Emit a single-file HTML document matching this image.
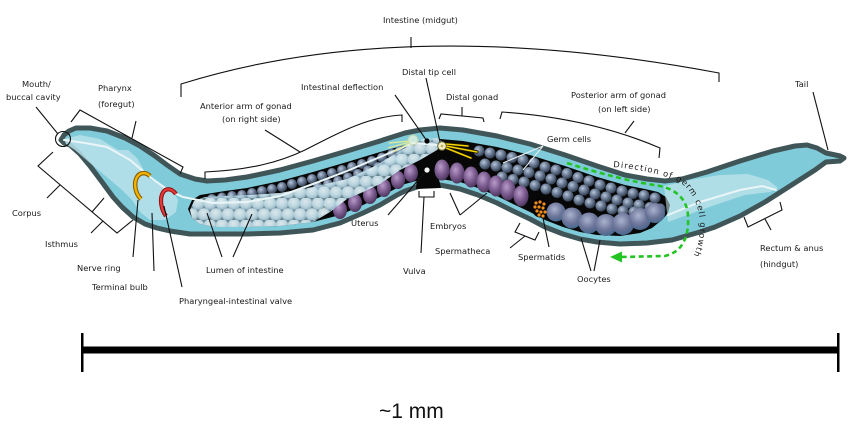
<!DOCTYPE html>
<html><head><meta charset="utf-8">
<style>
html,body{margin:0;padding:0;background:#fff;}
svg{display:block;}
text{font-family:"DejaVu Sans","Liberation Sans",sans-serif;font-size:8.3px;fill:#1a1a1a;}
</style></head><body>
<svg width="850" height="424" viewBox="0 0 850 424" xmlns="http://www.w3.org/2000/svg">
<defs>
 <radialGradient id="gc" cx="0.38" cy="0.35" r="0.7">
  <stop offset="0" stop-color="#b8c6da"/>
  <stop offset="0.45" stop-color="#6f8099"/>
  <stop offset="1" stop-color="#2c384a"/>
 </radialGradient>
 <radialGradient id="emb" cx="0.4" cy="0.35" r="0.75">
  <stop offset="0" stop-color="#b99bc9"/>
  <stop offset="0.5" stop-color="#7b5b8f"/>
  <stop offset="1" stop-color="#3e2a4e"/>
 </radialGradient>
 <radialGradient id="ooc" cx="0.42" cy="0.35" r="0.75">
  <stop offset="0" stop-color="#aab2ce"/>
  <stop offset="0.55" stop-color="#6b7498"/>
  <stop offset="1" stop-color="#3a6288"/>
 </radialGradient>
 <radialGradient id="ic" cx="0.45" cy="0.35" r="0.7">
  <stop offset="0" stop-color="#eef8fb"/>
  <stop offset="0.6" stop-color="#c6e0ea"/>
  <stop offset="1" stop-color="#8fb3c6"/>
 </radialGradient>
 <pattern id="ip" width="24" height="22" patternUnits="userSpaceOnUse">
  <circle cx="6" cy="5.5" r="6.3" fill="url(#ic)"/>
  <circle cx="18" cy="5.5" r="6.3" fill="url(#ic)"/>
  <circle cx="0" cy="16.5" r="6.3" fill="url(#ic)"/>
  <circle cx="12" cy="16.5" r="6.3" fill="url(#ic)"/>
  <circle cx="24" cy="16.5" r="6.3" fill="url(#ic)"/>
 </pattern>
</defs>

<!-- body -->
<polygon fill="#80cbd9" stroke="#3f5558" stroke-width="5" stroke-linejoin="round" points="61,140 64,135 69,131 76,128 90,128 107,131 125,138 140,146 155,156 167,165 180,174 195,179 207,181 225,180 247,177 280,170 313,161 347,151 380,141 405,133 420,130 440,128 463,130 497,136 530,144 565,155 597,166 625,175 647,179 665,181 682,179 707,172 740,161 773,151 795,146 807,145 817,148 826,153 840,156 844,158 840,161 826,162 815,170 790,186 765,202 740,216 715,227 700,232 672,240 647,243 620,244 597,242 580,239 563,234 545,227 530,219 513,211 497,203 478,195 460,189 440,185 420,186 405,191 397,195 380,205 363,213 340,223 313,230 280,233 247,234 215,234 190,234 170,231 157,228 145,224 133,217 122,207 113,197 102,182 90,166 80,154 70,145 64,143"/>

<!-- pharynx -->
<polygon fill="#b9e2ea" opacity="0.85" points="64,139 80,135 100,139 118,150 128,150 137,158 142,167 148,178 160,184 172,190 178,200 176,212 165,220 150,220 140,212 132,200 122,190 108,178 90,163 75,150 66,144"/>

<!-- cavity -->
<polygon fill="#070707" points="192,200 200,195 225,191 247,188 280,181 313,172 347,162 380,152 405,145 420,141 440,139 463,141 497,147 530,155 565,166 597,177 625,185 645,189 658,192 666,197 670,205 668,213 662,220 652,228 640,233 620,236 597,235 580,232 563,227 545,220 530,212 513,204 497,196 478,188 460,182 440,179 420,180 405,184 397,188 380,197 363,205 340,215 313,222 280,226 247,227 215,227 200,224 192,218 188,209"/>
<polygon fill="#070707" points="417,176 438,175 441,188 416,189"/>

<!-- anterior germ cells -->
<g fill="url(#gc)">
<circle cx="212" cy="199" r="5"/><circle cx="222" cy="197.5" r="5"/><circle cx="232" cy="196" r="5"/><circle cx="242" cy="195" r="5"/><circle cx="252" cy="193" r="5"/><circle cx="262" cy="191" r="5"/><circle cx="272" cy="189" r="5"/><circle cx="282" cy="187" r="5"/><circle cx="292" cy="184" r="5"/><circle cx="302" cy="181.5" r="5"/><circle cx="312" cy="179" r="5"/><circle cx="322" cy="176" r="5"/><circle cx="332" cy="173" r="5"/><circle cx="342" cy="170" r="5"/><circle cx="352" cy="167" r="5"/><circle cx="362" cy="164" r="5"/><circle cx="372" cy="161" r="5"/><circle cx="382" cy="157.5" r="5"/><circle cx="392" cy="154" r="5"/><circle cx="400" cy="151" r="5"/>
<circle cx="318" cy="187" r="5"/><circle cx="328" cy="184" r="5"/><circle cx="338" cy="181" r="5"/><circle cx="348" cy="177.5" r="5"/><circle cx="358" cy="174" r="5"/><circle cx="368" cy="170.5" r="5"/><circle cx="378" cy="167" r="5"/><circle cx="388" cy="163" r="5"/><circle cx="397" cy="160" r="5"/>
</g>
<!-- anterior embryos -->
<g fill="url(#emb)">
<ellipse cx="411" cy="173" rx="7" ry="9"/><ellipse cx="398" cy="180" rx="7" ry="9"/><ellipse cx="384" cy="188" rx="7" ry="9"/><ellipse cx="370" cy="195" rx="7" ry="9"/><ellipse cx="355" cy="203" rx="7" ry="9"/><ellipse cx="340" cy="210" rx="7" ry="9"/>
</g>
<ellipse cx="323" cy="210" rx="6" ry="6" fill="#050505"/>
<g fill="#f08c1a"><circle cx="320" cy="210" r="1.5"/><circle cx="324" cy="209" r="1.5"/><circle cx="322" cy="213" r="1.5"/><circle cx="326" cy="212" r="1.5"/><circle cx="319" cy="206" r="1.3"/><circle cx="325" cy="205" r="1.3"/></g>

<!-- posterior germ cells -->
<g fill="url(#gc)">
<circle cx="479" cy="151" r="5.5"/><circle cx="490" cy="153" r="5.5"/><circle cx="501" cy="155" r="5.5"/><circle cx="512" cy="157.5" r="5.5"/><circle cx="523" cy="160" r="5.5"/><circle cx="534" cy="163" r="5.5"/><circle cx="545" cy="167" r="5.5"/><circle cx="556" cy="170" r="5.5"/><circle cx="567" cy="173.5" r="5.5"/><circle cx="578" cy="177.5" r="5.5"/><circle cx="589" cy="181" r="5.5"/><circle cx="600" cy="185" r="5.5"/><circle cx="611" cy="188" r="5.5"/><circle cx="622" cy="191" r="5.5"/><circle cx="633" cy="193.5" r="5.5"/><circle cx="644" cy="195.5" r="5.5"/><circle cx="655" cy="198" r="5.5"/>
<circle cx="485" cy="164" r="5.5"/><circle cx="496" cy="166" r="5.5"/><circle cx="507" cy="167.5" r="5.5"/><circle cx="518" cy="170" r="5.5"/><circle cx="529" cy="172.5" r="5.5"/><circle cx="540" cy="176" r="5.5"/><circle cx="551" cy="179" r="5.5"/><circle cx="562" cy="183" r="5.5"/><circle cx="573" cy="186.5" r="5.5"/><circle cx="584" cy="190" r="5.5"/><circle cx="595" cy="194" r="5.5"/><circle cx="606" cy="197" r="5.5"/><circle cx="617" cy="200" r="5.5"/><circle cx="628" cy="203" r="5.5"/><circle cx="639" cy="205" r="5.5"/><circle cx="650" cy="207.5" r="5.5"/><circle cx="660" cy="209" r="5.5"/>
<circle cx="502" cy="177" r="5.5"/><circle cx="513" cy="179.5" r="5.5"/><circle cx="524" cy="182" r="5.5"/><circle cx="535" cy="185.5" r="5.5"/><circle cx="546" cy="189" r="5.5"/><circle cx="557" cy="192.5" r="5.5"/><circle cx="568" cy="196" r="5.5"/><circle cx="579" cy="200" r="5.5"/><circle cx="590" cy="203" r="5.5"/><circle cx="601" cy="206" r="5.5"/><circle cx="612" cy="209" r="5.5"/><circle cx="623" cy="211" r="5.5"/><circle cx="634" cy="212" r="5.5"/><circle cx="645" cy="214" r="5.5"/>
</g>
<!-- posterior embryos -->
<g fill="url(#emb)">
<ellipse cx="442" cy="170" rx="7.5" ry="10.5"/><ellipse cx="457" cy="173" rx="7.5" ry="10.5"/><ellipse cx="471" cy="177" rx="7.5" ry="10.5"/><ellipse cx="484" cy="182" rx="7.5" ry="10.5"/><ellipse cx="496" cy="186" rx="7.5" ry="10.5"/><ellipse cx="508" cy="190" rx="7.5" ry="10.5"/><ellipse cx="521" cy="196" rx="7.5" ry="10.5"/>
</g>
<!-- spermatids -->
<ellipse cx="540" cy="208" rx="8" ry="9.5" fill="#050505"/>
<g fill="#f08c1a"><circle cx="536" cy="203" r="1.6"/><circle cx="540" cy="202" r="1.6"/><circle cx="544" cy="204" r="1.6"/><circle cx="535" cy="207" r="1.6"/><circle cx="539" cy="207" r="1.6"/><circle cx="543" cy="208" r="1.6"/><circle cx="537" cy="211" r="1.6"/><circle cx="541" cy="212" r="1.6"/><circle cx="545" cy="212" r="1.6"/><circle cx="539" cy="215" r="1.6"/><circle cx="543" cy="216" r="1.6"/></g>
<!-- oocytes -->
<g fill="url(#ooc)">
<circle cx="556" cy="212" r="9.5"/><circle cx="572" cy="218" r="10.5"/><circle cx="589" cy="223" r="10.5"/><circle cx="606" cy="225" r="11"/><circle cx="623" cy="224" r="11"/><circle cx="640" cy="219" r="11"/><circle cx="655" cy="213" r="10"/>
</g>

<!-- anterior intestine overlay -->
<polygon fill="#9dc4d3" opacity="0.7" points="190,210 194,201 205,197 225,196 250,195 280,193 313,187 347,179 375,166 395,154 410,145 422,139 437,138 444,143 437,150 420,160 400,170 380,184 363,192 347,199 330,212 313,222 280,226 247,227 215,227 200,224 192,218"/>
<polygon fill="url(#ip)" opacity="0.85" points="190,210 194,201 205,197 225,196 250,195 280,193 313,187 347,179 375,166 395,154 410,145 422,139 437,138 444,143 437,150 420,160 400,170 380,184 363,192 347,199 330,212 313,222 280,226 247,227 215,227 200,224 192,218"/>
<!-- posterior intestine -->
<polygon fill="#d6eef3" opacity="0.55" points="664,186 690,180 720,175 748,174 768,180 778,188 770,192 745,195 715,205 690,214 668,222"/>
<!-- lumen -->
<polyline fill="none" stroke="#eaf5f8" stroke-width="2" stroke-linecap="round" points="64,140 85,143 107,147 130,160 150,177 168,190 183,197 213,203 247,202 280,196 313,184 347,171 380,157 413,143 437,145"/>
<polyline fill="none" stroke="#eaf5f8" stroke-width="2" stroke-linecap="round" points="668,215 700,202 740,190 762,186 776,190"/>

<!-- nerve ring & valve -->
<path d="M150,176 A8.5,12.5 -15 1 0 141,199" fill="none" stroke="#8a5a00" stroke-width="4.5"/>
<path d="M150,176 A8.5,12.5 -15 1 0 141,199" fill="none" stroke="#f0b400" stroke-width="2.4"/>
<path d="M176,194 A7,12 -15 1 0 166,216" fill="none" stroke="#8e1010" stroke-width="4.2"/>
<path d="M176,194 A7,12 -15 1 0 166,216" fill="none" stroke="#e23a3a" stroke-width="2.2"/>

<!-- distal tip cells -->
<g stroke="#e2eb98" stroke-width="1.4" opacity="0.9"><line x1="410" y1="141" x2="389" y2="143"/><line x1="410" y1="142" x2="388" y2="148"/><line x1="410" y1="143" x2="393" y2="152"/></g>
<circle cx="413" cy="140" r="5" fill="#e8f4e0" opacity="0.75" stroke="#c8d8a0"/>
<g stroke="#1a1400" stroke-width="3.2" stroke-linecap="round"><line x1="446" y1="146" x2="477" y2="152"/><line x1="446" y1="148" x2="471" y2="158"/><line x1="446" y1="144" x2="468" y2="146"/></g>
<g stroke="#f5d400" stroke-width="1.5" stroke-linecap="round"><line x1="446" y1="146" x2="477" y2="152"/><line x1="446" y1="148" x2="471" y2="158"/><line x1="446" y1="144" x2="468" y2="146"/></g>
<circle cx="442" cy="146" r="4.3" fill="#f3f0c8" stroke="#6b6030" stroke-width="1"/>
<circle cx="442" cy="146" r="1.4" fill="#c8b060"/>

<!-- green arrow -->
<path d="M567,163 Q620,180 660,186 Q686,192 688,215 Q690,250 665,256 L621,257" fill="none" stroke="#22c422" stroke-width="2.6" stroke-dasharray="5,3.5"/>
<polygon points="610,257 622,251.5 622,262.5" fill="#22c422"/>

<!-- leader lines & brackets -->
<g fill="none" stroke="#111" stroke-width="1.1">
<circle cx="63" cy="139" r="7.5"/>
<line x1="36" y1="107" x2="58" y2="134"/>
<polyline points="71,122 80,110 183,167 180,174"/>
<line x1="132" y1="138" x2="136" y2="121"/>
<polyline points="53,152 38,166 117,233 133,220"/>
<line x1="60" y1="185" x2="47" y2="198"/>
<line x1="92" y1="212" x2="104" y2="198"/>
<line x1="103" y1="221" x2="91" y2="233"/>
<line x1="133" y1="257" x2="138" y2="200"/>
<line x1="154" y1="271" x2="152" y2="213"/>
<line x1="182" y1="287" x2="164" y2="206"/>
<line x1="222" y1="257" x2="207" y2="213"/>
<line x1="233" y1="257" x2="252" y2="214"/>
<path d="M181,97 L181,84 Q405,14 719,73 L719,82"/>
<line x1="411" y1="48" x2="411" y2="37"/>
<path d="M205,179 L205,172 C250,170 280,162 305,150 C335,135 365,117 402,115 L402,122"/>
<line x1="300" y1="152" x2="265" y2="130"/>
<line x1="395" y1="95" x2="427" y2="141"/>
<line x1="426" y1="78" x2="440" y2="142"/>
<polyline points="439,119 441,114 483,118 484,122"/>
<line x1="462" y1="116" x2="462" y2="107"/>
<path d="M500,119 L502,112 Q590,118 660,148 L659,158"/>
<line x1="625" y1="133" x2="634" y2="121"/>
<line x1="813" y1="92" x2="828" y2="150"/>
<polyline points="744,217 748,227 782,210 780,202"/>
<line x1="765" y1="219" x2="771" y2="230"/>
<line x1="388" y1="215" x2="427" y2="170"/>
<polyline points="419,191 419,197 434,197 434,191"/>
<line x1="424" y1="197" x2="421" y2="253"/>
<line x1="460" y1="215" x2="450" y2="193"/>
<line x1="460" y1="215" x2="487" y2="193"/>
<polyline points="520,223 515,232 535,240 539,232"/>
<line x1="525" y1="236" x2="510" y2="248"/>
<line x1="549" y1="247" x2="543" y2="218"/>
<line x1="591" y1="271" x2="581" y2="238"/>
<line x1="594" y1="271" x2="600" y2="240"/>
</g>
<g stroke="#e8eef0" stroke-width="1.1"><line x1="543" y1="146" x2="503" y2="163"/><line x1="543" y1="146" x2="523" y2="170"/></g>
<circle cx="427" cy="141" r="2.6" fill="#000"/>
<circle cx="427" cy="170" r="2.6" fill="#f4f4f4"/>

<!-- labels -->
<text x="383" y="23">Intestine (midgut)</text>
<text x="22" y="87">Mouth/</text>
<text x="6" y="100">buccal cavity</text>
<text x="98" y="91">Pharynx</text>
<text x="98" y="107">(foregut)</text>
<text x="200" y="109">Anterior arm of gonad</text>
<text x="222" y="122">(on right side)</text>
<text x="301" y="90">Intestinal deflection</text>
<text x="402" y="75">Distal tip cell</text>
<text x="446" y="100">Distal gonad</text>
<text x="571" y="98">Posterior arm of gonad</text>
<text x="598" y="112">(on left side)</text>
<text x="547" y="142">Germ cells</text>
<text x="795" y="87">Tail</text>
<text x="12" y="216">Corpus</text>
<text x="45" y="247">Isthmus</text>
<text x="77" y="271">Nerve ring</text>
<text x="92" y="290">Terminal bulb</text>
<text x="179" y="304">Pharyngeal-intestinal valve</text>
<text x="206" y="273">Lumen of intestine</text>
<text x="351" y="226">Uterus</text>
<text x="430" y="229">Embryos</text>
<text x="435" y="254">Spermatheca</text>
<text x="403" y="274">Vulva</text>
<text x="518" y="260">Spermatids</text>
<text x="577" y="282">Oocytes</text>
<text x="760" y="251">Rectum &amp; anus</text>
<text x="760" y="267">(hindgut)</text>

<path id="dirp" d="M613,167 Q658,171 681,183 Q699,197 700,225 Q700,252 684,270" fill="none"/>
<text style="letter-spacing:1px"><textPath href="#dirp">Direction of germ cell growth</textPath></text>

<!-- scale bar -->
<rect x="82" y="346.5" width="756" height="7" fill="#000"/>
<rect x="81" y="333" width="2.5" height="39" fill="#000"/>
<rect x="837" y="333" width="2.5" height="39" fill="#000"/>
<text x="379" y="418" style="font-family:'Liberation Sans',sans-serif;font-size:21px;fill:#111">~1 mm</text>
</svg>
</body></html>
